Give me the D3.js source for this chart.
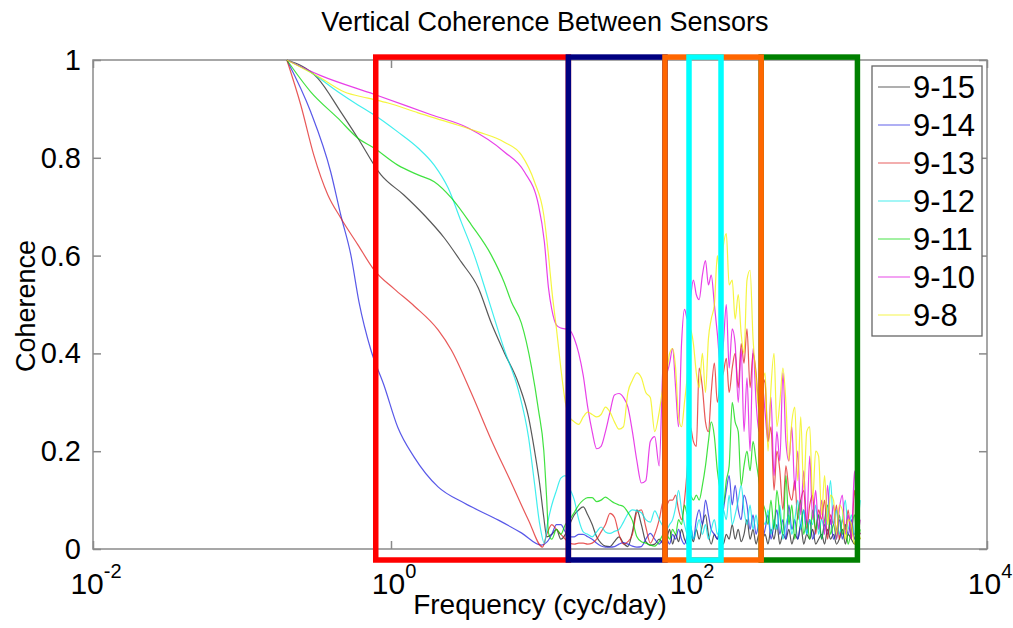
<!DOCTYPE html>
<html>
<head>
<meta charset="utf-8">
<script src="https://cdn.jsdelivr.net/npm/d3@7"></script>
<style>
  body { margin: 0; background: #fff; }
  text { font-family: "Liberation Sans", Arial, sans-serif; fill: #000; }
</style>
</head>
<body>
<svg id="chart" width="1013" height="628"></svg>
<script>
// ---- data ---------------------------------------------------------------
const sensorPairs = ["9-15", "9-14", "9-13", "9-12", "9-11", "9-10", "9-8"];

// low-frequency part of each coherence curve: [frequency (cyc/day), coherence]
const low_9_15 = [[0.2,1.0],[0.322,0.963],[0.46,0.894],[0.6,0.84],[0.857,0.765],[1.22,0.724],[1.67,0.683],[2.28,0.636],[2.96,0.587],[3.85,0.534],[4.71,0.462],[5.77,0.401],[7.16,0.339],[8.37,0.27],[9.18,0.202],[9.93,0.135],[10.6,0.065],[11.1,0.025]];
const low_9_14 = [[0.2,1.0],[0.289,0.894],[0.394,0.771],[0.46,0.683],[0.538,0.601],[0.61,0.505],[0.733,0.407],[0.897,0.335],[1.11,0.249],[1.43,0.188],[2.07,0.127],[3.1,0.094],[5.26,0.059],[7.5,0.033],[10.2,0.008],[11.2,0.015]];
const low_9_13 = [[0.2,1.0],[0.248,0.908],[0.303,0.806],[0.377,0.724],[0.46,0.677],[0.6,0.622],[0.769,0.571],[1.05,0.532],[1.43,0.497],[2.07,0.448],[2.54,0.407],[3.46,0.319],[4.71,0.223],[6.43,0.135],[8.37,0.059],[10.4,0.004],[11.1,0.03]];
const low_9_12 = [[0.2,1.0],[0.289,0.975],[0.44,0.935],[0.6,0.908],[0.769,0.888],[1.11,0.853],[1.52,0.82],[1.95,0.785],[2.42,0.738],[2.96,0.669],[3.62,0.601],[4.5,0.511],[5.77,0.407],[7.16,0.325],[8.37,0.229],[9.18,0.135],[9.93,0.053],[10.7,0.012],[11.2,0.05]];
const low_9_11 = [[0.2,1.0],[0.289,0.935],[0.44,0.881],[0.6,0.84],[0.769,0.82],[1.11,0.785],[1.52,0.765],[1.95,0.751],[2.54,0.718],[3.46,0.663],[4.71,0.601],[5.77,0.544],[6.43,0.505],[7.5,0.462],[8.77,0.372],[9.77,0.284],[10.6,0.202],[11.1,0.1],[11.4,0.033]];
const low_9_10 = [[0.2,1.0],[0.338,0.968],[0.769,0.93],[1.86,0.888],[3.3,0.861],[5.77,0.812],[7.87,0.771],[9.77,0.703],[10.7,0.628],[11.4,0.534]];
const low_9_8  = [[0.2,1.0],[0.338,0.963],[0.483,0.935],[0.7,0.922],[0.955,0.912],[1.52,0.892],[2.54,0.871],[3.85,0.853],[5.77,0.832],[7.5,0.806],[9.18,0.751],[10.6,0.683],[11.4,0.601]];

// high-frequency sampling grid (cyc/day) shared by all curves
const hfFreq = [
  12.0,12.9,13.8,14.8,15.8,17.0,18.2,19.5,20.9,22.4,24.0,25.7,27.5,29.5,31.6,33.9,36.3,38.9,41.7,44.7,47.9,51.3,55.0,58.9,63.1,67.6,
  70.8,74.1,77.6,81.3,85.1,89.1,93.3,97.7,102,107,112,117,123,129,135,141,148,155,162,170,178,186,195,204,214,224,234,245,257,269,282,295,309,
  324,339,355,372,389,407,427,447,468,490,513,537,562,589,617,646,676,708,741,776,813,851,891,933,977,1020,1070,1120,1170,1230,1290,1350,1410
];

// coherence on the high-frequency grid
const hf_9_15 = [
  0.03,0.04,0.02,0.03,0.05,0.07,0.08,0.086,0.07,0.05,0.025,0.012,0.006,0.005,0.015,0.025,0.012,0.005,0.035,0.08,0.05,0.015,0.008,0.01,0.02,0.01,
  0.02,0.04,0.01,0.03,0.015,0.04,0.02,0.01,0.03,0.015,0.04,0.02,0.05,0.07,0.03,0.01,0.03,0.02,0.04,0.01,0.03,0.02,0.05,0.02,0.04,0.015,0.03,0.06,0.02,0.04,0.01,0.03,0.02,
  0.03,0.01,0.04,0.02,0.05,0.01,0.03,0.02,0.04,0.01,0.03,0.02,0.05,0.01,0.03,0.02,0.04,0.01,0.02,0.03,0.01,0.04,0.02,0.03,0.01,0.02,0.04,0.01,0.03,0.02,0.01,0.03,0.02
];
const hf_9_14 = [
  0.03,0.05,0.05,0.035,0.025,0.025,0.03,0.03,0.025,0.02,0.012,0.006,0.004,0.004,0.005,0.01,0.013,0.01,0.006,0.004,0.005,0.02,0.032,0.02,0.01,0.02,
  0.02,0.01,0.03,0.02,0.04,0.02,0.01,0.03,0.05,0.02,0.06,0.08,0.05,0.10,0.07,0.04,0.03,0.02,0.05,0.08,0.12,0.15,0.09,0.13,0.08,0.06,0.11,0.09,0.04,0.07,0.03,0.05,0.02,
  0.04,0.07,0.02,0.05,0.08,0.03,0.06,0.02,0.09,0.04,0.06,0.02,0.05,0.08,0.03,0.06,0.02,0.04,0.07,0.02,0.05,0.03,0.06,0.02,0.04,0.06,0.02,0.05,0.03,0.06,0.02,0.04,0.03
];
const hf_9_13 = [
  0.05,0.04,0.03,0.02,0.012,0.01,0.012,0.012,0.01,0.012,0.02,0.035,0.05,0.073,0.065,0.03,0.01,0.015,0.03,0.075,0.08,0.045,0.012,0.03,0.06,0.10,
  0.09,0.10,0.10,0.11,0.08,0.06,0.10,0.17,0.25,0.22,0.21,0.37,0.33,0.26,0.24,0.32,0.38,0.30,0.34,0.36,0.39,0.32,0.37,0.40,0.33,0.42,0.38,0.45,0.33,0.40,0.36,0.29,0.35,
  0.34,0.22,0.25,0.12,0.20,0.16,0.08,0.17,0.12,0.10,0.14,0.06,0.10,0.12,0.04,0.09,0.11,0.03,0.08,0.06,0.10,0.02,0.07,0.05,0.09,0.02,0.06,0.04,0.08,0.02,0.12,0.05,0.03
];
const hf_9_12 = [
  0.09,0.12,0.145,0.15,0.125,0.10,0.06,0.035,0.03,0.025,0.035,0.045,0.035,0.032,0.036,0.04,0.055,0.072,0.08,0.078,0.074,0.06,0.055,0.078,0.06,0.045,
  0.04,0.05,0.06,0.085,0.12,0.08,0.05,0.03,0.05,0.02,0.04,0.06,0.03,0.05,0.02,0.04,0.06,0.03,0.05,0.08,0.06,0.11,0.05,0.07,0.10,0.13,0.08,0.05,0.09,0.04,0.07,0.03,0.06,
  0.05,0.08,0.03,0.06,0.04,0.09,0.02,0.05,0.07,0.03,0.06,0.10,0.04,0.08,0.03,0.06,0.05,0.09,0.03,0.06,0.04,0.07,0.14,0.05,0.08,0.03,0.06,0.10,0.04,0.07,0.03,0.05,0.10
];
const hf_9_11 = [
  0.02,0.04,0.03,0.05,0.06,0.075,0.09,0.10,0.105,0.105,0.097,0.10,0.106,0.10,0.094,0.09,0.087,0.075,0.058,0.025,0.015,0.012,0.008,0.006,0.015,0.03,
  0.03,0.02,0.04,0.03,0.06,0.05,0.09,0.07,0.11,0.10,0.11,0.10,0.13,0.17,0.22,0.26,0.23,0.16,0.12,0.09,0.14,0.17,0.30,0.26,0.24,0.13,0.17,0.20,0.16,0.22,0.18,0.14,0.10,
  0.08,0.05,0.10,0.04,0.12,0.07,0.03,0.15,0.05,0.09,0.02,0.07,0.10,0.03,0.06,0.02,0.08,0.04,0.07,0.02,0.06,0.09,0.03,0.05,0.02,0.07,0.03,0.05,0.01,0.04,0.07,0.02,0.04
];
const hf_9_10 = [
  0.49,0.458,0.452,0.45,0.448,0.43,0.40,0.355,0.29,0.24,0.205,0.21,0.24,0.28,0.315,0.318,0.31,0.29,0.24,0.18,0.135,0.14,0.22,0.23,0.17,0.40,
  0.36,0.38,0.41,0.33,0.25,0.42,0.49,0.47,0.51,0.55,0.52,0.51,0.56,0.59,0.54,0.56,0.50,0.44,0.38,0.42,0.50,0.37,0.45,0.42,0.30,0.41,0.24,0.35,0.20,0.41,0.30,0.24,0.34,
  0.28,0.22,0.31,0.15,0.24,0.18,0.36,0.22,0.18,0.25,0.12,0.20,0.07,0.16,0.05,0.19,0.06,0.12,0.04,0.10,0.03,0.13,0.05,0.09,0.02,0.08,0.11,0.03,0.07,0.02,0.16,0.03,0.06
];
const hf_9_8 = [
  0.53,0.45,0.37,0.30,0.27,0.26,0.255,0.27,0.28,0.275,0.27,0.275,0.29,0.28,0.26,0.245,0.25,0.32,0.345,0.36,0.35,0.32,0.31,0.24,0.28,0.34,
  0.36,0.40,0.41,0.37,0.27,0.25,0.30,0.36,0.45,0.42,0.36,0.33,0.40,0.32,0.43,0.47,0.50,0.60,0.55,0.62,0.645,0.54,0.55,0.47,0.52,0.44,0.40,0.55,0.57,0.43,0.35,0.28,0.33,
  0.36,0.20,0.33,0.40,0.25,0.30,0.37,0.30,0.18,0.26,0.29,0.14,0.27,0.12,0.24,0.25,0.10,0.20,0.19,0.07,0.15,0.05,0.11,0.10,0.03,0.09,0.08,0.02,0.06,0.05,0.01,0.04,0.02
];

const lowParts = [low_9_15, low_9_14, low_9_13, low_9_12, low_9_11, low_9_10, low_9_8];
const hfParts  = [hf_9_15, hf_9_14, hf_9_13, hf_9_12, hf_9_11, hf_9_10, hf_9_8];

// frequency bands outlined on the plot (cyc/day)
const bandLow  = [0.79, 15.5, 305, 69, 100];
const bandHigh = [15.5, 69, 1350, 305, 164];
const bandSpan = [-0.0225, 1.006];

const xTickExponents = [-2, 0, 2, 4];
const yTicks = [0, 0.2, 0.4, 0.6, 0.8, 1];

// ---- style ------------------------------------------------------------
const lineColors = ["#202020", "#2020e0", "#e02020", "#00e8e8", "#00d800", "#e000e0", "#f2f200"];
const bandColors = ["#ff0000", "#000080", "#008000", "#ff6600", "#00ffff"];

// ---- layout -----------------------------------------------------------
const svg = d3.select("#chart");
const plotLeft = 93, plotRight = 987, plotTop = 60, plotBottom = 549;

const x = d3.scaleLog().domain([1e-2, 1e4]).range([plotLeft, plotRight]);
const y = d3.scaleLinear().domain([0, 1]).range([plotBottom, plotTop]);

// axes box
const axisColor = "#8a8a8a";
svg.append("rect")
  .attr("x", plotLeft).attr("y", plotTop)
  .attr("width", plotRight - plotLeft).attr("height", plotBottom - plotTop)
  .attr("fill", "#fff").attr("stroke", axisColor).attr("stroke-width", 1.5);

const tickVals = xTickExponents.map(e => Math.pow(10, e));
const gAx = svg.append("g");
gAx.append("g").attr("transform", `translate(0,${plotBottom})`)
  .call(d3.axisBottom(x).tickValues(tickVals).tickSizeInner(-8).tickSizeOuter(0).tickFormat(""));
gAx.append("g").attr("transform", `translate(0,${plotTop})`)
  .call(d3.axisTop(x).tickValues(tickVals).tickSizeInner(-8).tickSizeOuter(0).tickFormat(""));
gAx.append("g").attr("transform", `translate(${plotLeft},0)`)
  .call(d3.axisLeft(y).tickValues(yTicks).tickSizeInner(-8).tickSizeOuter(0).tickFormat(""));
gAx.append("g").attr("transform", `translate(${plotRight},0)`)
  .call(d3.axisRight(y).tickValues(yTicks).tickSizeInner(-8).tickSizeOuter(0).tickFormat(""));
gAx.selectAll(".domain").remove();
gAx.selectAll(".tick line").attr("stroke", axisColor).attr("stroke-width", 1.5);

// y tick labels
svg.append("g").selectAll("text").data(yTicks).join("text")
  .attr("x", plotLeft - 12).attr("y", d => y(d) + 10)
  .attr("text-anchor", "end").attr("font-size", 29)
  .text(d => d === 0 || d === 1 ? String(d) : d.toFixed(1));

// x tick labels: 10 with superscript exponent
const xl = svg.append("g").selectAll("text").data(xTickExponents).join("text")
  .attr("x", d => x(Math.pow(10, d)) + 3).attr("y", 594)
  .attr("text-anchor", "middle").attr("font-size", 30);
xl.append("tspan").text("10");
xl.append("tspan").attr("dy", -16).attr("font-size", 20).text(d => String(d));

// coherence curves
const line = d3.line()
  .x(d => x(d.f)).y(d => y(d.c))
  .curve(d3.curveMonotoneX);

const series = sensorPairs.map((name, i) => ({
  name,
  color: lineColors[i],
  points: lowParts[i].map(([f, c]) => ({ f, c }))
    .concat(hfFreq.map((f, j) => ({ f, c: hfParts[i][j] })))
}));

svg.append("g").selectAll("path").data(series).join("path")
  .attr("d", d => line(d.points))
  .attr("fill", "none")
  .attr("stroke", d => d.color)
  .attr("stroke-width", 1.2)
  .attr("stroke-opacity", 0.75)
  .attr("stroke-linejoin", "round");

// band outlines
svg.append("g").selectAll("rect").data(bandLow).join("rect")
  .attr("x", (d, i) => x(d))
  .attr("y", y(bandSpan[1]))
  .attr("width", (d, i) => x(bandHigh[i]) - x(d))
  .attr("height", y(bandSpan[0]) - y(bandSpan[1]))
  .attr("fill", "none")
  .attr("stroke", (d, i) => bandColors[i])
  .attr("stroke-width", 5.5);

// legend
const lg = svg.append("g");
lg.append("rect")
  .attr("x", 872).attr("y", 66).attr("width", 110).attr("height", 270)
  .attr("fill", "#fff").attr("stroke", "#666").attr("stroke-width", 1.3);
const items = lg.selectAll("g.item").data(series).join("g")
  .attr("class", "item")
  .attr("transform", (d, i) => `translate(0,${87 + i * 38})`);
items.append("line")
  .attr("x1", 878).attr("x2", 910).attr("y1", 0).attr("y2", 0)
  .attr("stroke", d => d.color).attr("stroke-width", 1.2).attr("stroke-opacity", 0.6);
items.append("text")
  .attr("x", 913).attr("y", 11).attr("font-size", 31)
  .text(d => d.name);

// titles
svg.append("text")
  .attr("x", 545).attr("y", 31).attr("text-anchor", "middle")
  .attr("font-size", 27)
  .text("Vertical Coherence Between Sensors");
svg.append("text")
  .attr("x", 540).attr("y", 614).attr("text-anchor", "middle")
  .attr("font-size", 28)
  .text("Frequency (cyc/day)");
svg.append("text")
  .attr("transform", "translate(35,306) rotate(-90)")
  .attr("text-anchor", "middle")
  .attr("font-size", 27)
  .text("Coherence");
</script>
</body>
</html>
